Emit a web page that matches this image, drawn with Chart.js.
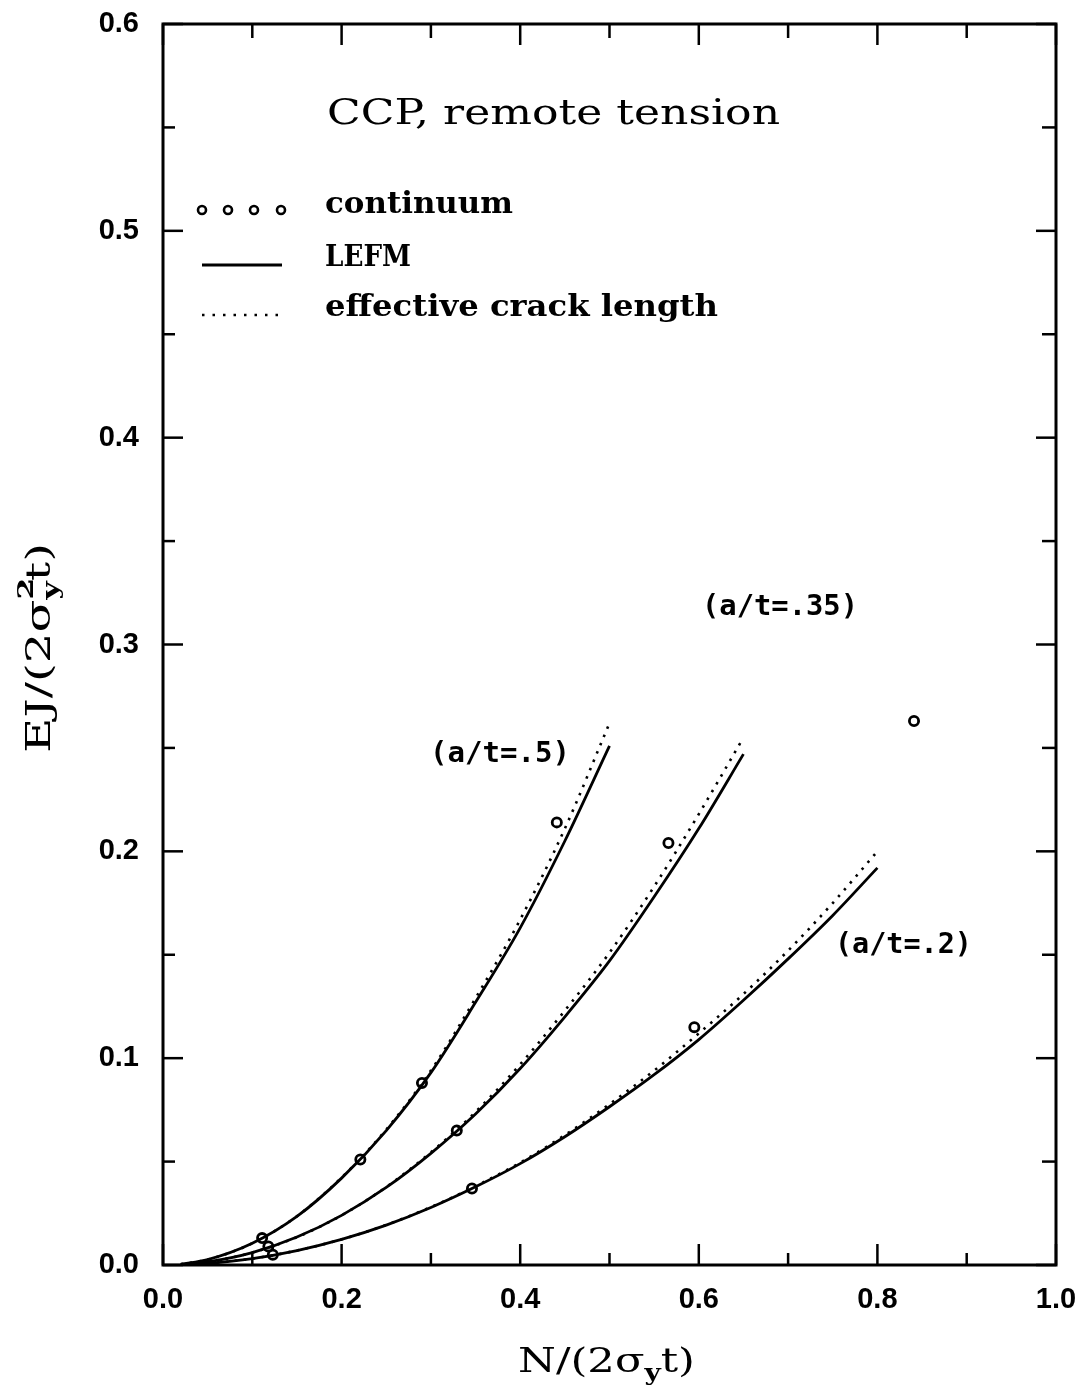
<!DOCTYPE html>
<html>
<head>
<meta charset="utf-8">
<script src="https://cdn.jsdelivr.net/npm/chart.js@4.4.0/dist/chart.umd.min.js"></script>
<style>
  html, body { margin: 0; padding: 0; background: #fff; }
</style>
</head>
<body>
<canvas id="ccpChart" width="1087" height="1392"></canvas>
<script>
// ---- data ----
const xTickLabels = [0.0, 0.2, 0.4, 0.6, 0.8, 1.0];
const xMinorTicks = [0.1, 0.3, 0.5, 0.7, 0.9];
const yTickLabels = [0.0, 0.1, 0.2, 0.3, 0.4, 0.5, 0.6];
const yMinorTicks = [0.05, 0.15, 0.25, 0.35, 0.45, 0.55];

// a/t = .5
const n50 = [0.02, 0.05, 0.10, 0.15, 0.20, 0.25, 0.30, 0.35, 0.40, 0.45, 0.50];
const jLefm50 = [0.0004, 0.0026, 0.0105, 0.0235, 0.042, 0.065, 0.093, 0.127, 0.163, 0.205, 0.251];
const jEff50 = [0.0004, 0.0026, 0.0105, 0.0236, 0.0423, 0.0655, 0.094, 0.129, 0.167, 0.211, 0.262];
const nCont50 = [0.111, 0.221, 0.290, 0.441];
const jCont50 = [0.013, 0.051, 0.088, 0.214];

// a/t = .35
const n35 = [0.02, 0.05, 0.10, 0.15, 0.20, 0.25, 0.30, 0.35, 0.40, 0.45, 0.50, 0.55, 0.60, 0.65];
const jLefm35 = [0.0002, 0.0015, 0.006, 0.0135, 0.024, 0.0375, 0.054, 0.073, 0.095, 0.120, 0.147, 0.178, 0.211, 0.247];
const jEff35 = [0.0002, 0.0015, 0.006, 0.0135, 0.024, 0.0377, 0.0545, 0.074, 0.097, 0.123, 0.151, 0.183, 0.218, 0.255];
const nCont35 = [0.118, 0.329, 0.566];
const jCont35 = [0.009, 0.065, 0.204];

// a/t = .2
const n20 = [0.02, 0.05, 0.10, 0.15, 0.20, 0.25, 0.30, 0.35, 0.40, 0.45, 0.50, 0.55, 0.60, 0.65, 0.70, 0.75, 0.80];
const jLefm20 = [0.0001, 0.0008, 0.0031, 0.007, 0.0124, 0.0193, 0.0278, 0.0378, 0.049, 0.062, 0.0765, 0.092, 0.109, 0.128, 0.148, 0.169, 0.192];
const jEff20 = [0.0001, 0.0008, 0.0031, 0.007, 0.0124, 0.0194, 0.028, 0.0381, 0.0495, 0.0628, 0.0778, 0.094, 0.112, 0.131, 0.152, 0.175, 0.200];
const nCont20 = [0.123, 0.346, 0.595, 0.841];
const jCont20 = [0.005, 0.037, 0.115, 0.263];

const curveLabels = ['(a/t=.5)', '(a/t=.35)', '(a/t=.2)'];

function pts(xs, ys) {
  return xs.map((x, i) => ({ x: x, y: ys[i] }));
}

const SERIF = '"DejaVu Serif", "Liberation Serif", serif';
const MONO = '"DejaVu Sans Mono", "Liberation Mono", monospace';

function lefmSet(xs, ys) {
  return { data: pts(xs, ys), showLine: true, borderColor: '#000', borderWidth: 2.8,
           pointRadius: 0, tension: 0.4, cubicInterpolationMode: 'monotone' };
}
function effSet(xs, ys) {
  return { data: pts(xs, ys), showLine: true, borderColor: '#000', borderWidth: 2.6,
           borderDash: [2.5, 6.5], pointRadius: 0, tension: 0.4, cubicInterpolationMode: 'monotone' };
}
function contSet(xs, ys) {
  return { data: pts(xs, ys), showLine: false, pointStyle: 'circle', pointRadius: 4.6,
           pointBorderWidth: 2.8, pointBorderColor: '#000', pointBackgroundColor: '#fff' };
}

// draw a run of text pieces, squeezed/stretched to a target width
function drawPieces(ctx, pieces, x, y, targetW) {
  let w = 0;
  pieces.forEach(p => {
    ctx.font = p.font;
    p.w = ctx.measureText(p.t).width;
    if (p.adv !== false) w += p.w;
  });
  ctx.save();
  ctx.translate(x, y);
  ctx.scale(targetW ? targetW / w : 1, 1);
  let cx = 0;
  pieces.forEach(p => {
    ctx.font = p.font;
    ctx.fillText(p.t, cx, p.dy || 0);
    if (p.adv !== false) cx += p.w;
  });
  ctx.restore();
}

const framePlugin = {
  id: 'frame',
  afterDraw(chart) {
    const { ctx, chartArea: { left, right, top, bottom } } = chart;
    const xs = chart.scales.x, ys = chart.scales.y;
    ctx.save();
    ctx.strokeStyle = '#000';
    ctx.fillStyle = '#000';
    ctx.lineWidth = 3;
    ctx.strokeRect(left, top, right - left, bottom - top);

    // inward ticks on all four sides
    ctx.lineWidth = 2.5;
    const tick = (x1, y1, x2, y2) => { ctx.beginPath(); ctx.moveTo(x1, y1); ctx.lineTo(x2, y2); ctx.stroke(); };
    xTickLabels.forEach(v => { const p = xs.getPixelForValue(v); tick(p, bottom, p, bottom - 21); tick(p, top, p, top + 21); });
    xMinorTicks.forEach(v => { const p = xs.getPixelForValue(v); tick(p, bottom, p, bottom - 12); tick(p, top, p, top + 14); });
    yTickLabels.forEach(v => { const p = ys.getPixelForValue(v); tick(left, p, left + 20, p); tick(right, p, right - 20, p); });
    yMinorTicks.forEach(v => { const p = ys.getPixelForValue(v); tick(left, p, left + 12, p); tick(right, p, right - 14, p); });

    // title inside plot
    ctx.textBaseline = 'alphabetic';
    ctx.textAlign = 'left';
    drawPieces(ctx, [{ t: 'CCP, remote tension', font: '36px ' + SERIF }], 327, 124, 453);

    // legend
    ctx.lineWidth = 2.6;
    [202, 228, 254, 281].forEach(cx => {
      ctx.beginPath(); ctx.arc(cx, 210, 4, 0, Math.PI * 2); ctx.fillStyle = '#fff'; ctx.fill(); ctx.stroke();
    });
    ctx.fillStyle = '#000';
    ctx.lineWidth = 2.8;
    tick(202, 265, 282, 265);
    ctx.lineWidth = 2.4;
    ctx.setLineDash([2.5, 8]);
    tick(202, 315, 284, 315);
    ctx.setLineDash([]);
    drawPieces(ctx, [{ t: 'continuum', font: 'bold 30px ' + SERIF }], 325, 213, 188);
    drawPieces(ctx, [{ t: 'LEFM', font: 'bold 29px ' + SERIF }], 325, 266, 86);
    drawPieces(ctx, [{ t: 'effective crack length', font: 'bold 30px ' + SERIF }], 325, 316, 393);

    // curve labels
    ctx.textBaseline = 'middle';
    const lab = [[0.299, 0.2466, 140], [0.6036, 0.3177, 156], [0.7525, 0.1547, 137]];
    curveLabels.forEach((t, i) => {
      drawPieces(ctx, [{ t: t, font: 'bold 29px ' + MONO }],
        xs.getPixelForValue(lab[i][0]), ys.getPixelForValue(lab[i][1]), lab[i][2]);
    });

    // axis titles with sub/superscripts
    ctx.textBaseline = 'alphabetic';
    const big = '34px ' + SERIF, small = '22px ' + SERIF;
    drawPieces(ctx, [
      { t: 'N/(2\u03c3', font: big },
      { t: 'y', font: 'bold ' + small, dy: 8 },
      { t: 't)', font: big }
    ], 518, 1372, 177);

    ctx.save();
    ctx.translate(50, 753);
    ctx.rotate(-Math.PI / 2);
    drawPieces(ctx, [
      { t: 'EJ/(2\u03c3', font: big },
      { t: '2', font: 'bold ' + small, dy: -17, adv: false },
      { t: 'y', font: 'bold ' + small, dy: 8 },
      { t: 't)', font: big }
    ], 0, 0, 210);
    ctx.restore();

    ctx.restore();
  }
};

const ctx = document.getElementById('ccpChart');
new Chart(ctx, {
  type: 'scatter',
  data: {
    datasets: [
      effSet(n50, jEff50), lefmSet(n50, jLefm50), contSet(nCont50, jCont50),
      effSet(n35, jEff35), lefmSet(n35, jLefm35), contSet(nCont35, jCont35),
      effSet(n20, jEff20), lefmSet(n20, jLefm20), contSet(nCont20, jCont20)
    ]
  },
  options: {
    responsive: false,
    animation: false,
    layout: { padding: { top: 24, right: 31, left: 0, bottom: 0 } },
    plugins: { legend: { display: false }, tooltip: { enabled: false } },
    scales: {
      x: {
        type: 'linear', min: 0, max: 1,
        afterBuildTicks: (s) => { s.ticks = xTickLabels.map(v => ({ value: v })); },
        afterFit: (s) => { s.height = 127; s.paddingLeft = 0; s.paddingRight = 0; },
        grid: { display: false, drawTicks: false },
        border: { display: false },
        ticks: { padding: 18, color: '#000', font: { family: '"Liberation Sans", Arial, sans-serif', weight: 'bold', size: 29 },
                 callback: (v) => Number(v).toFixed(1) }
      },
      y: {
        type: 'linear', min: 0, max: 0.6,
        afterBuildTicks: (s) => { s.ticks = yTickLabels.map(v => ({ value: v })); },
        afterFit: (s) => { s.width = 163; s.paddingTop = 0; s.paddingBottom = 0; },
        grid: { display: false, drawTicks: false },
        border: { display: false },
        ticks: { padding: 24, color: '#000', font: { family: '"Liberation Sans", Arial, sans-serif', weight: 'bold', size: 29 },
                 callback: (v) => Number(v).toFixed(1) }
      }
    }
  },
  plugins: [framePlugin]
});
</script>
</body>
</html>
